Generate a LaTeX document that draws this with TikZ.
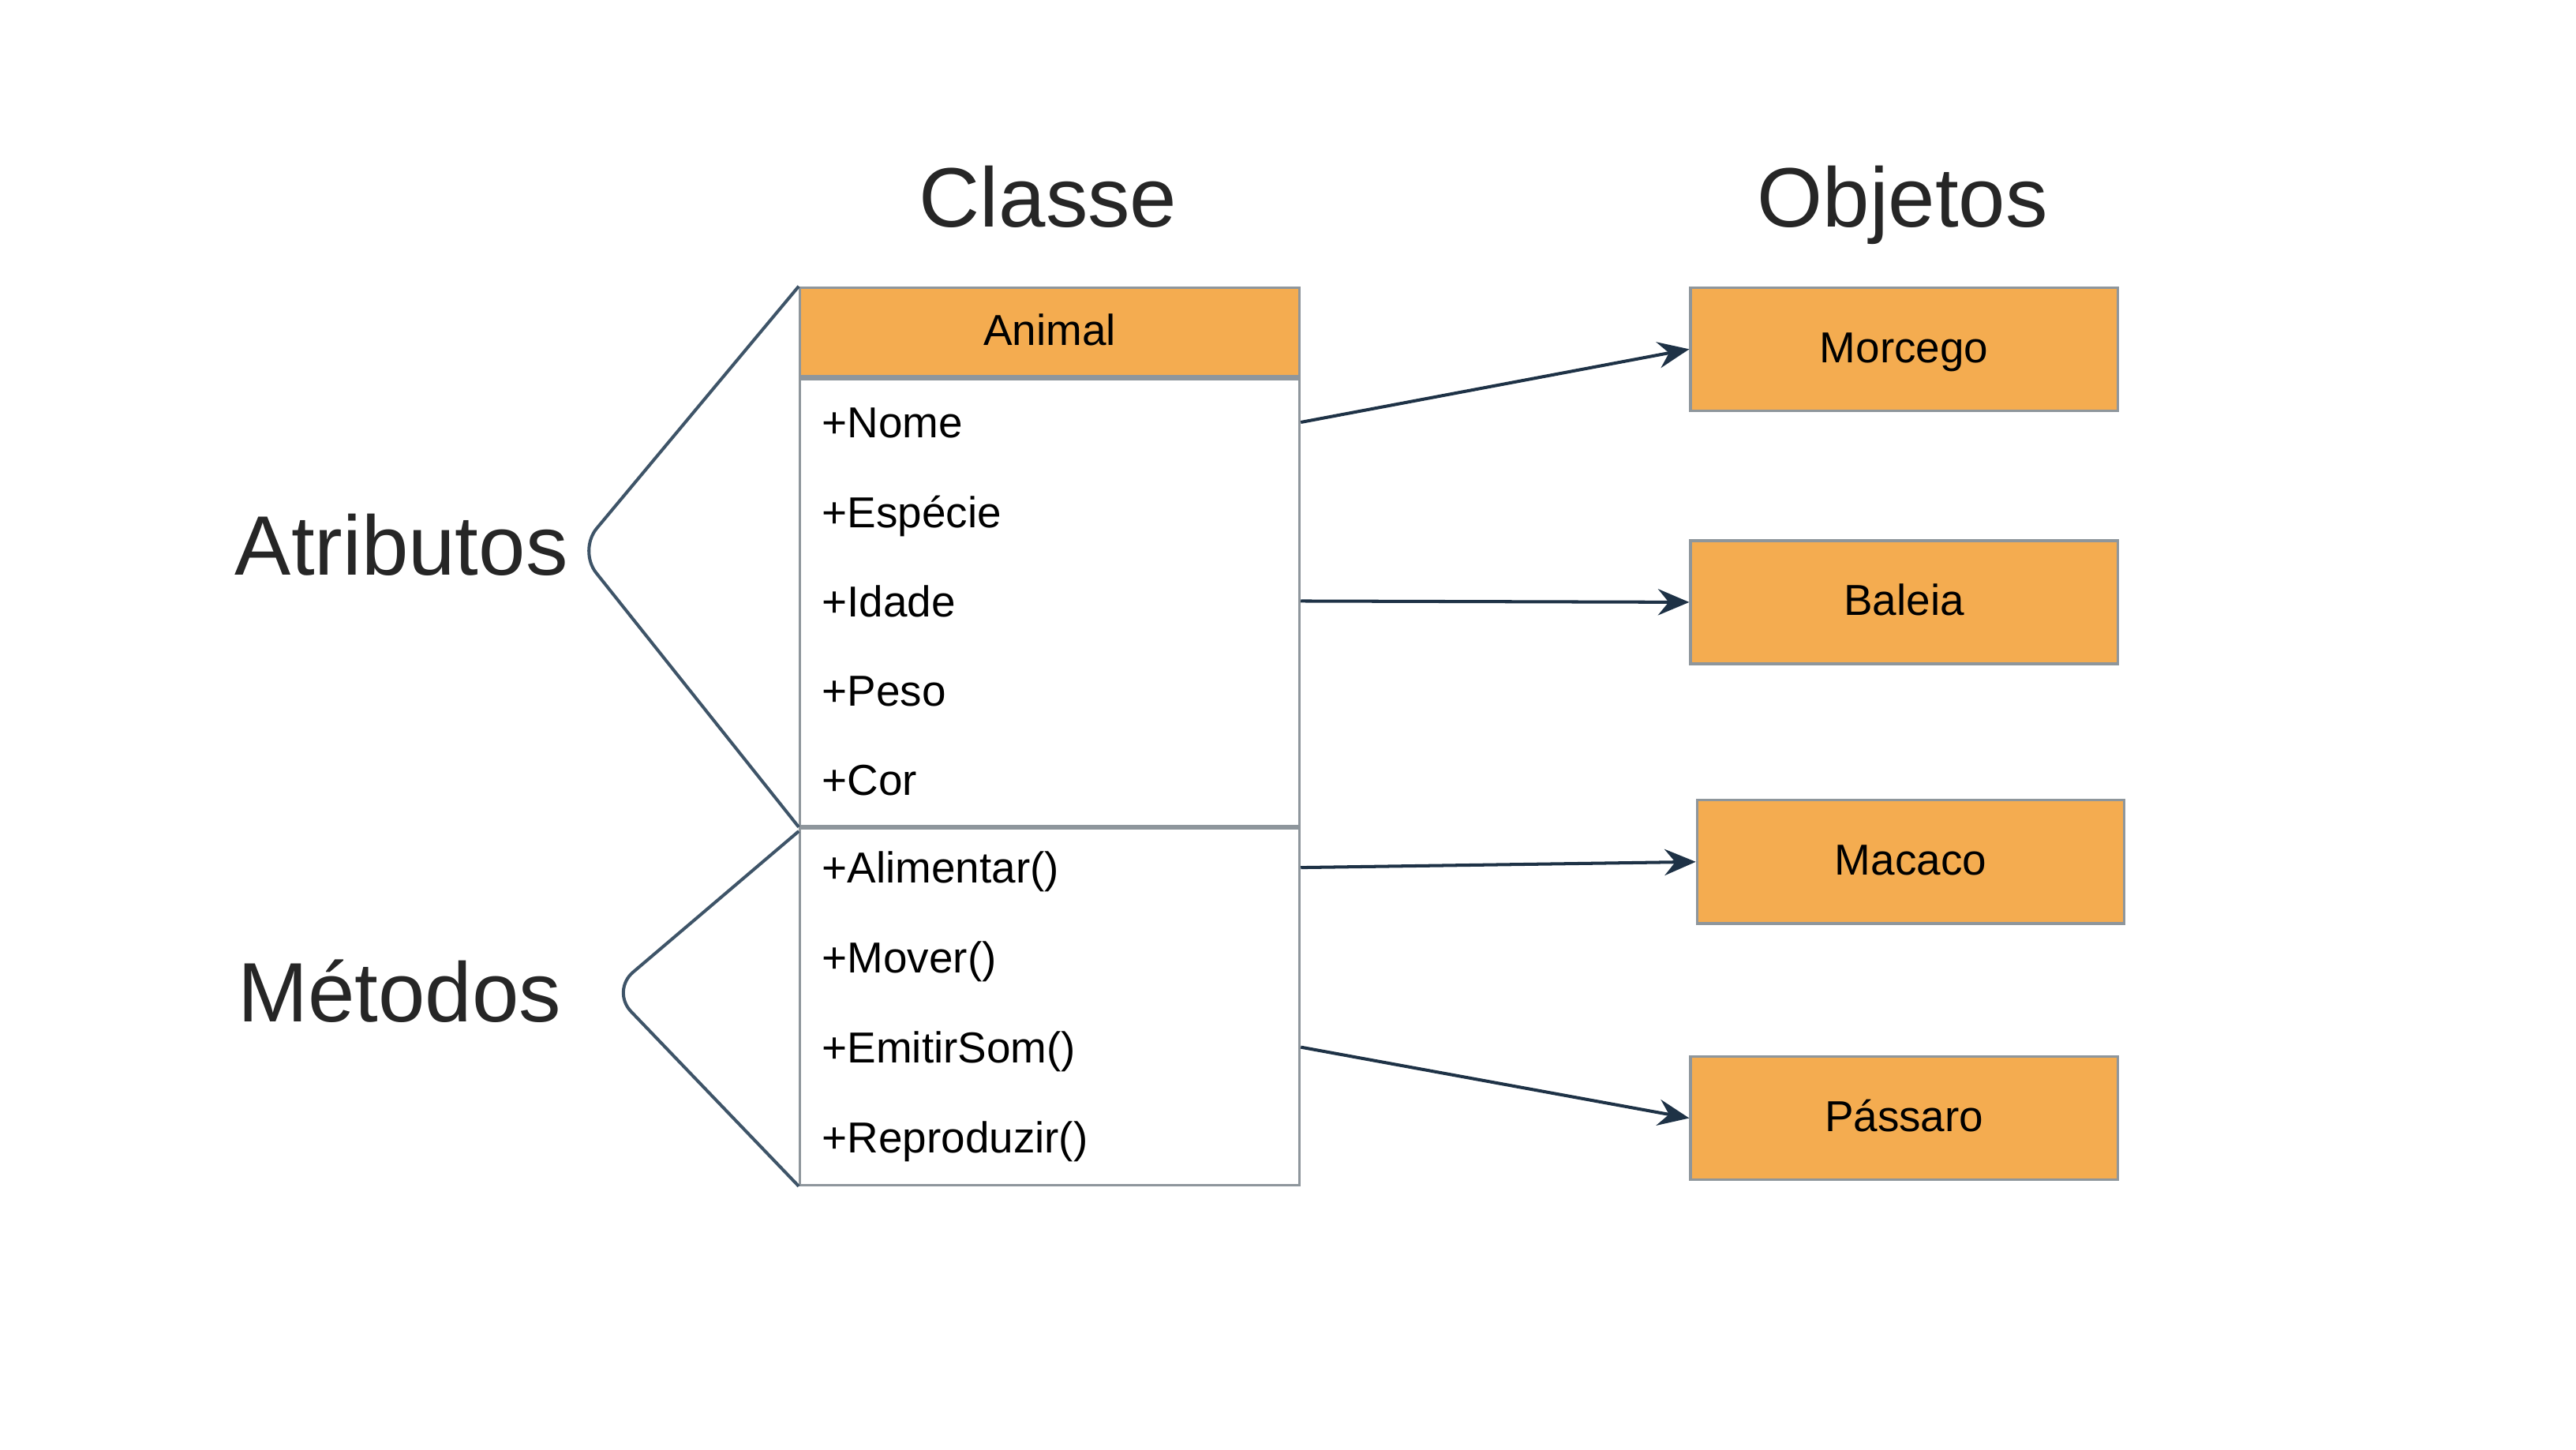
\documentclass[tikz,border=0pt]{standalone}
\usepackage{fontspec}
\setmainfont{Liberation Sans}
\usepackage{tikz}
\usetikzlibrary{arrows.meta,positioning}
\definecolor{objfill}{HTML}{F4AC50}
\definecolor{boxline}{HTML}{8E969C}
\definecolor{arrowc}{HTML}{1E3246}
\definecolor{bracec}{HTML}{3E5468}

\begin{document}
\begin{tikzpicture}[
  header/.style={draw=boxline,line width=0.9pt,fill=objfill,minimum width=6.08cm,
    minimum height=1.08cm,inner sep=0pt,text height=0.92em,text depth=0pt,font=\fontsize{15}{18}\selectfont},
  section/.style={draw=boxline,line width=0.9pt,fill=white,minimum width=6.08cm,inner sep=0pt},
  member/.style={anchor=base west,inner sep=0pt,font=\fontsize{15}{18}\selectfont},
  object/.style={draw=boxline,line width=0.9pt,fill=objfill,minimum width=5.2cm,
    minimum height=1.5cm,inner sep=0pt,text height=0.92em,text depth=0pt,font=\fontsize{15}{18}\selectfont},
  title/.style={anchor=base,inner sep=0pt,font=\fontsize{29.2}{33}\selectfont,text=black!85},
  sidelabel/.style={anchor=base east,inner sep=0pt,font=\fontsize{29.2}{33}\selectfont,text=black!85},
  flow/.style={-{Stealth[length=3.8mm,width=3.2mm,inset=1.3mm]},line width=1.1pt,draw=arrowc},
  brace/.style={line width=1.1pt,draw=bracec,rounded corners=0.35cm}]
\useasboundingbox (0,0) rectangle (31.36,-17.64);

% class box
\node[header] (animal) at (12.78,-4.04) {Animal};
\node[section,minimum height=5.44cm,below=0pt of animal] (attrs) {};
\node[section,minimum height=4.34cm,below=0pt of attrs] (methods) {};
\foreach \t [count=\i] in {+Nome,+Espécie,+Idade,+Peso,+Cor}
  \node[member] (a\i) at (10.0,{-5.33-(\i-1)*1.088}) {\t};
\foreach \t [count=\i] in {+Alimentar(),+Mover(),+EmitirSom(),+Reproduzir()}
  \node[member] (m\i) at (10.0,{-10.75-(\i-1)*1.093}) {\t};

\node[title] (classe) at (12.76,-2.76) {Classe};
\node[title] (objetos) at (23.16,-2.76) {Objetos};

% objects
\node[object] (morcego) at (23.18,-4.25) {Morcego};
\node[object] (baleia) at (23.18,-7.33) {Baleia};
\node[object] (macaco) at (23.26,-10.49) {Macaco};
\node[object] (passaro) at (23.18,-13.61) {Pássaro};

\draw[flow] ([yshift=0.19cm]attrs.east |- a1.base) -- (morcego.west);
\draw[flow] ([yshift=0.19cm]attrs.east |- a3.base) -- (baleia.west);
\draw[flow] ([yshift=0.19cm]methods.east |- m1.base) -- (macaco.west);
\draw[flow] ([yshift=0.19cm]methods.east |- m3.base) -- (passaro.west);

% braces
\coordinate (atip) at (7.04,-6.70);
\coordinate (mtip) at (7.44,-12.06);
\draw[brace] (animal.north west) -- (atip) -- (attrs.south west);
\draw[brace] ([yshift=-0.05cm]methods.north west) -- (mtip) -- (methods.south west);
\node[sidelabel] (atributos) at (6.92,-7.0) {Atributos};
\node[sidelabel] (metodos) at (6.84,-12.44) {Métodos};
\end{tikzpicture}
\end{document}
